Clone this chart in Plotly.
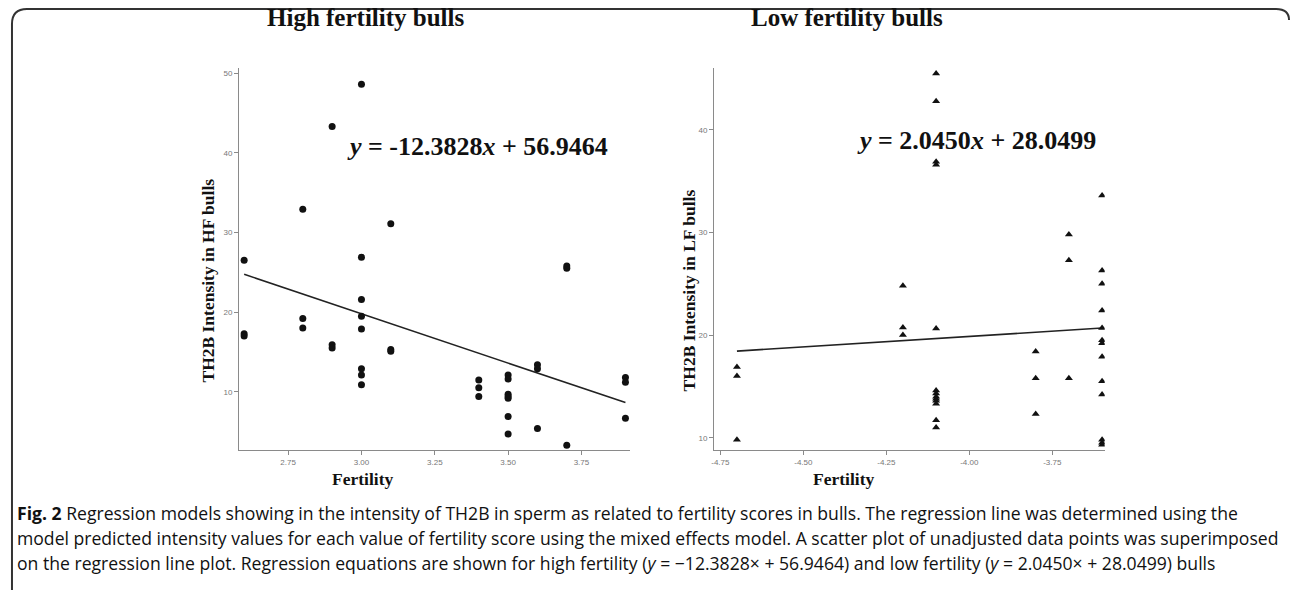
import plotly.graph_objects as go

W, H = 1292, 590

# ---------------- data ----------------
hf_fertility = [2.6, 2.6, 2.6,
                2.8, 2.8, 2.8,
                2.9, 2.9, 2.9,
                3.0, 3.0, 3.0, 3.0, 3.0, 3.0, 3.0, 3.0,
                3.1, 3.1, 3.1,
                3.4, 3.4, 3.4,
                3.5, 3.5, 3.5, 3.5, 3.5, 3.5, 3.5,
                3.6, 3.6, 3.6,
                3.7, 3.7, 3.7,
                3.9, 3.9, 3.9]
hf_intensity = [26.5, 17.3, 17.0,
                32.9, 19.2, 18.0,
                43.3, 15.9, 15.5,
                48.6, 26.9, 21.6, 19.5, 17.9, 12.9, 12.1, 10.9,
                31.1, 15.3, 15.1,
                11.5, 10.5, 9.4,
                12.1, 11.6, 9.7, 9.4, 9.2, 6.9, 4.7,
                13.4, 12.9, 5.4,
                25.8, 25.5, 3.3,
                11.8, 11.2, 6.7]

lf_fertility = [-4.7, -4.7, -4.7,
                -4.2, -4.2, -4.2,
                -4.1, -4.1, -4.1, -4.1, -4.1, -4.1, -4.1, -4.1, -4.1, -4.1, -4.1, -4.1, -4.1,
                -3.8, -3.8, -3.8,
                -3.7, -3.7, -3.7,
                -3.6, -3.6, -3.6, -3.6, -3.6, -3.6, -3.6, -3.6, -3.6, -3.6, -3.6, -3.6, -3.6]
lf_intensity = [16.9, 16.0, 9.8,
                24.8, 20.75, 20.0,
                45.5, 42.8, 36.9, 36.6, 20.65, 14.6, 14.3, 14.0, 13.8, 13.6, 13.3, 11.7, 11.0,
                18.4, 15.8, 12.3,
                29.8, 27.3, 15.8,
                33.6, 26.3, 25.0, 22.4, 20.7, 19.5, 19.2, 17.9, 15.5, 14.2, 9.8, 9.5, 9.3]

hf_slope, hf_intercept = -12.3828, 56.9464
lf_slope, lf_intercept = 2.0450, 28.0499

hf_xticks = [2.75, 3.00, 3.25, 3.50, 3.75]
hf_xticklabels = ["2.75", "3.00", "3.25", "3.50", "3.75"]
hf_yticks = [10, 20, 30, 40, 50]
lf_xticks = [-4.75, -4.50, -4.25, -4.00, -3.75]
lf_xticklabels = ["-4.75", "-4.50", "-4.25", "-4.00", "-3.75"]
lf_yticks = [10, 20, 30, 40]

titles = ["High fertility bulls", "Low fertility bulls"]
ytitles = ["TH2B Intensity in HF bulls", "TH2B Intensity in LF bulls"]
xtitle = "Fertility"

caption_lines = [
    "<b>Fig. 2</b> Regression models showing in the intensity of TH2B in sperm as related to fertility scores in bulls. The regression line was determined using the",
    "model predicted intensity values for each value of fertility score using the mixed effects model. A scatter plot of unadjusted data points was superimposed",
    "on the regression line plot. Regression equations are shown for high fertility (<i>y</i> = \u221212.3828\u00d7 + 56.9464) and low fertility (<i>y</i> = 2.0450\u00d7 + 28.0499) bulls",
]

# ---------------- helpers ----------------
def px(x):
    return x / W

def py(y):
    return 1 - y / H

serif = "Liberation Serif, Times New Roman, serif"
sans = "Liberation Sans, Arial, sans-serif"

fig = go.Figure()

# HF
hf_line_x = [min(hf_fertility), max(hf_fertility)]
hf_line_y = [hf_slope * v + hf_intercept for v in hf_line_x]
fig.add_trace(go.Scatter(x=hf_line_x, y=hf_line_y, mode="lines",
                         line=dict(color="#222222", width=1.6),
                         xaxis="x", yaxis="y", showlegend=False))
fig.add_trace(go.Scatter(x=hf_fertility, y=hf_intensity, mode="markers",
                         marker=dict(symbol="circle", size=7, color="#111111"),
                         xaxis="x", yaxis="y", showlegend=False))

# LF
lf_line_x = [min(lf_fertility), max(lf_fertility)]
lf_line_y = [lf_slope * v + lf_intercept for v in lf_line_x]
fig.add_trace(go.Scatter(x=lf_line_x, y=lf_line_y, mode="lines",
                         line=dict(color="#222222", width=1.6),
                         xaxis="x2", yaxis="y2", showlegend=False))
fig.add_trace(go.Scatter(x=lf_fertility, y=lf_intensity, mode="markers",
                         marker=dict(symbol="triangle-up", size=7, color="#111111"),
                         xaxis="x2", yaxis="y2", showlegend=False))

ax_common = dict(showline=True, linecolor="#8a8a8a", linewidth=1.2,
                 ticks="outside", ticklen=4, tickcolor="#8a8a8a", tickwidth=1,
                 showgrid=False, zeroline=False,
                 tickfont=dict(family=sans, size=8, color="#777777"))

ydom = [py(450), py(68.3)]

fig.update_layout(
    width=W, height=H,
    margin=dict(l=0, r=0, t=0, b=0),
    paper_bgcolor="white", plot_bgcolor="white",
    xaxis=dict(domain=[px(236.7), px(628.3)], range=[2.583, 3.915], anchor="y",
               tickvals=hf_xticks, ticktext=hf_xticklabels, **ax_common),
    yaxis=dict(domain=ydom, range=[2.7, 50.6], anchor="x",
               tickvals=hf_yticks, **ax_common),
    xaxis2=dict(domain=[px(712.7), px(1104.3)], range=[-4.769, -3.592], anchor="y2",
                tickvals=lf_xticks, ticktext=lf_xticklabels, **ax_common),
    yaxis2=dict(domain=ydom, range=[8.8, 46.0], anchor="x2",
                tickvals=lf_yticks, **ax_common),
)

ann = []
# panel titles
ann.append(dict(x=px(364), y=py(18), text="<b>" + titles[0] + "</b>"))
ann.append(dict(x=px(846), y=py(18), text="<b>" + titles[1] + "</b>"))
for a in ann:
    a.update(xref="paper", yref="paper", showarrow=False,
             font=dict(family=serif, size=25, color="#111111"),
             xanchor="center", yanchor="middle")

# equations
eqs = [
    dict(x=px(476), y=py(147),
         text="<b><i>y</i> = -12.3828<i>x</i> + 56.9464</b>"),
    dict(x=px(976), y=py(140),
         text="<b><i>y</i> = 2.0450<i>x</i> + 28.0499</b>"),
]
for a in eqs:
    a.update(xref="paper", yref="paper", showarrow=False,
             font=dict(family=serif, size=26, color="#111111"),
             xanchor="center", yanchor="middle")
ann += eqs

# axis titles
axt = [
    dict(x=px(205), y=py(281), text="<b>" + ytitles[0] + "</b>", textangle=-90),
    dict(x=px(688), y=py(290), text="<b>" + ytitles[1] + "</b>", textangle=-90),
    dict(x=px(360), y=py(479), text="<b>" + xtitle + "</b>"),
    dict(x=px(842), y=py(479), text="<b>" + xtitle + "</b>"),
]
for a in axt:
    a.update(xref="paper", yref="paper", showarrow=False,
             font=dict(family=serif, size=17.5, color="#111111"),
             xanchor="center", yanchor="middle")
ann += axt

# caption
for i, line in enumerate(caption_lines):
    ann.append(dict(x=px(12), y=py(513 + 25 * i), text=line,
                    xref="paper", yref="paper", showarrow=False,
                    xanchor="left", yanchor="middle",
                    font=dict(family="Open Sans, sans-serif", size=17.6, color="#111111")))

fig.update_layout(annotations=ann)

# frame: top rule with rounded corners and left rule
fig.add_shape(type="path", xref="paper", yref="paper",
              path=(f"M {px(9)},{py(H)} L {px(9)},{py(24)} "
                    f"Q {px(9)},{py(9)} {px(24)},{py(9)} "
                    f"L {px(1276)},{py(9)} Q {px(1289)},{py(9)} {px(1289)},{py(20)}"),
              line=dict(color="#333333", width=2))

fig.write_html("out.html",
               config={"displayModeBar": False},
               post_script="document.body.style.margin='0';document.body.style.overflow='hidden';")
